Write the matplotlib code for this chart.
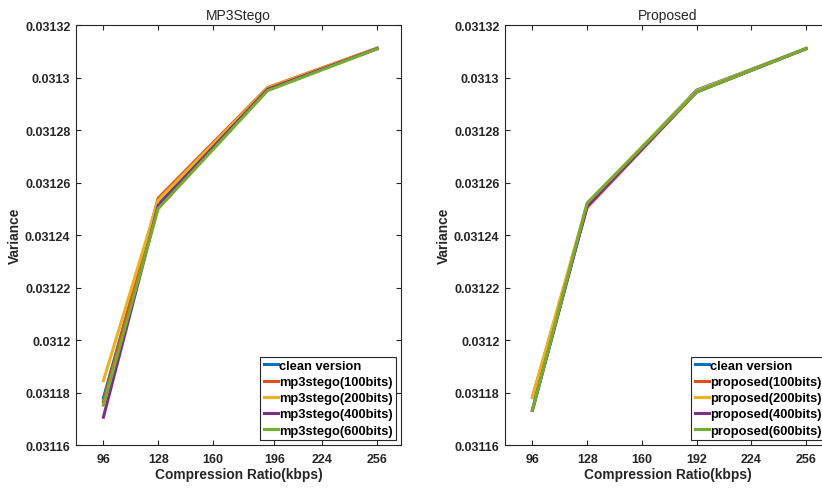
import matplotlib
matplotlib.use("Agg")
import matplotlib.pyplot as plt
from matplotlib.ticker import FuncFormatter

plt.rcParams['font.family'] = ['Liberation Sans', 'DejaVu Sans']

rates = [96, 128, 192, 256]
left_ticks = [96, 128, 160, 196, 224, 256]
right_ticks = [96, 128, 160, 192, 224, 256]
yticks = [0.03116, 0.03118, 0.0312, 0.03122, 0.03124, 0.03126, 0.03128, 0.0313, 0.03132]

left_labels = ["clean version", "mp3stego(100bits)", "mp3stego(200bits)",
               "mp3stego(400bits)", "mp3stego(600bits)"]
left_values = [
    [0.0311779, 0.0312522, 0.0312955, 0.0313110],
    [0.0311765, 0.0312540, 0.0312962, 0.0313112],
    [0.0311845, 0.0312532, 0.0312960, 0.0313111],
    [0.0311706, 0.0312512, 0.0312955, 0.0313110],
    [0.0311752, 0.0312500, 0.0312950, 0.0313109],
]

right_labels = ["clean version", "proposed(100bits)", "proposed(200bits)",
                "proposed(400bits)", "proposed(600bits)"]
right_values = [
    [0.0311733, 0.0312515, 0.0312952, 0.0313110],
    [0.0311782, 0.0312505, 0.0312945, 0.0313110],
    [0.0311782, 0.0312520, 0.0312950, 0.0313111],
    [0.0311733, 0.0312510, 0.0312945, 0.0313110],
    [0.0311733, 0.0312522, 0.0312945, 0.0313110],
]

colors = ['#0072BD', '#D95319', '#EDB120', '#7E2F8E', '#77AC30']

fig = plt.figure(figsize=(8.22, 4.89), dpi=100)
ax1 = fig.add_axes([0.0925, 0.0879, 0.3954, 0.8589])
ax2 = fig.add_axes([0.6144, 0.0879, 0.3954, 0.8589])

def fmt(v, pos):
    return f"{round(v, 6):g}"

for ax, vals, labels, xt, title in [
        (ax1, left_values, left_labels, left_ticks, "MP3Stego"),
        (ax2, right_values, right_labels, right_ticks, "Proposed")]:
    for v, lab, c in zip(vals, labels, colors):
        ax.plot(rates, v, color=c, lw=2.2, label=lab)
    ax.set_xlim(80, 270)
    ax.set_ylim(0.03116, 0.03132)
    ax.set_xticks(xt)
    ax.set_yticks(yticks)
    ax.yaxis.set_major_formatter(FuncFormatter(fmt))
    ax.tick_params(direction='in', length=3.5, width=0.8, colors='#262626',
                   top=True, right=True, labelsize=9)
    ax.tick_params(axis='x', pad=6)
    ax.tick_params(axis='y', pad=4)
    for lbl in ax.get_xticklabels() + ax.get_yticklabels():
        lbl.set_fontweight('bold')
    for s in ax.spines.values():
        s.set_color('#262626')
        s.set_linewidth(0.8)
    ax.set_xlabel("Compression Ratio(kbps)", fontsize=9.9, fontweight='bold', color='#262626', labelpad=1)
    ax.set_ylabel("Variance", fontsize=9.9, fontweight='bold', color='#262626', labelpad=2)
    ax.set_title(title, fontsize=10, color='#262626', pad=4)
    leg = ax.legend(loc='lower right', prop={'weight': 'bold', 'size': 9.3},
                    handlelength=1.1, handletextpad=0.1, labelspacing=0.32,
                    borderpad=0.25, borderaxespad=0.4, fancybox=False, framealpha=1)
    leg.get_frame().set_edgecolor('#262626')
    leg.get_frame().set_linewidth(0.8)

fig.savefig("out.png", dpi=100)
